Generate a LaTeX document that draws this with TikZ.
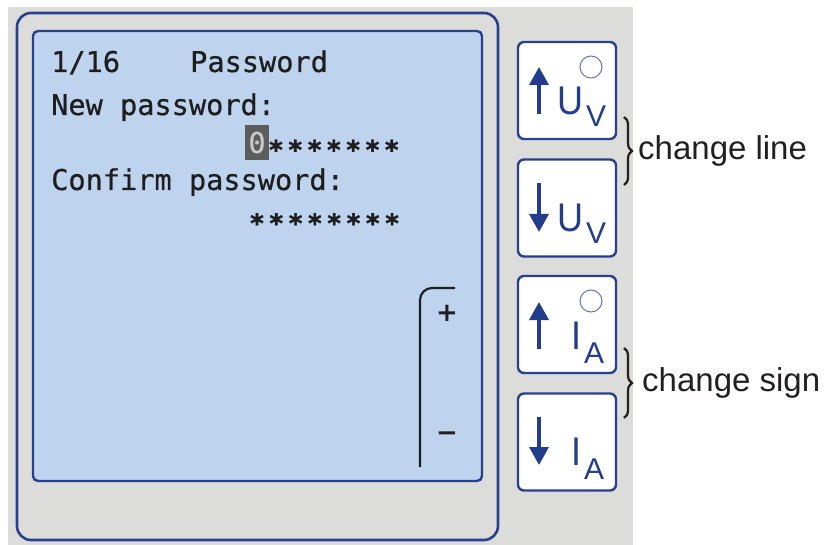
\documentclass[tikz,border=0pt]{standalone}
\usepackage{fontspec}
\setmainfont{Liberation Sans}
\newfontfamily\lcdfont[FakeBold=0.6]{DejaVu Sans Mono}
\newfontfamily\starfont[FakeBold=1.5]{DejaVu Sans Mono Bold}
\newfontfamily\keysans[FakeStretch=0.9]{Liberation Sans}
\newfontfamily\signfont{DejaVu Sans}
\usetikzlibrary{calc,arrows.meta,decorations.pathreplacing}

\definecolor{panelgrey}{HTML}{DCDCDB}
\definecolor{frameblue}{HTML}{29408F}
\definecolor{lcdblue}{HTML}{BED3EE}
\definecolor{keyblue}{HTML}{213D8C}
\definecolor{ledblue}{HTML}{6573BC}
\definecolor{cursorgrey}{HTML}{5C5C5C}
\definecolor{cursortext}{HTML}{C9C9C9}
\definecolor{lcdink}{HTML}{1E1E1E}
\definecolor{labelink}{HTML}{231F20}

\begin{document}
\begin{tikzpicture}[x=1pt,y=-1pt,
  framebox/.style={draw=frameblue,line width=2.6pt,rounded corners=14pt},
  lcdbox/.style={draw=frameblue,fill=lcdblue,line width=2.4pt,rounded corners=5pt},
  keybox/.style={draw=frameblue,fill=white,line width=2.4pt,rounded corners=6pt,
    minimum width=98pt,minimum height=97pt,inner sep=0pt},
  keyarrow/.style={keyblue,line width=3.5pt,-{Triangle[width=19pt,length=18pt]}},
  keymain/.style={keyblue,anchor=base west,inner sep=0pt,
    font=\keysans\fontsize{40}{40}\selectfont},
  keysub/.style={keyblue,anchor=base west,inner sep=0pt,
    font=\fontsize{30}{30}\selectfont},
  led/.style={draw=ledblue,line width=1pt,circle,minimum size=22pt,inner sep=0pt},
  lcdtext/.style={lcdink,anchor=base west,inner sep=0pt,
    font=\lcdfont\fontsize{28.6}{28.6}\selectfont},
  starchar/.style={lcdink,anchor=base,inner sep=0pt,
    font=\starfont\fontsize{26}{26}\selectfont},
  cursor/.style={fill=cursorgrey,text=cursortext,minimum width=24pt,minimum height=35pt,
    inner sep=0pt,font=\lcdfont\fontsize{28.6}{28.6}\selectfont},
  bracestyle/.style={labelink,line width=2.2pt,decorate,decoration={brace,amplitude=8pt}},
  sidelabel/.style={labelink,anchor=base west,inner sep=0pt,
    font=\fontsize{33}{33}\selectfont},
  scalebar/.style={black!88,line width=2.2pt,rounded corners=12pt},
  scalemark/.style={black!88,inner sep=0pt,font=\signfont\bfseries\fontsize{26}{26}\selectfont}
]
\useasboundingbox (0,0) rectangle (827,545);

% instrument front panel
\fill[panelgrey] (8,7) rectangle (633,545);
\draw[framebox] (17,13) rectangle (498,540);
\draw[lcdbox] (33,31) rectangle (482,481);

% display contents
\node[lcdtext] (title) at (51,72) {1/16};
\node[lcdtext] (titlename) at (190,72) {Password};
\node[lcdtext] (newpw) at (51,115) {New password:};
\node[cursor] (cur) at (257,142.5) {0};
\foreach \i in {0,...,6}
  \node[starchar] (n\i) at (276+19.3*\i,159) {*};
\node[lcdtext] (confpw) at (51,190) {Confirm password:};
\foreach \i in {0,...,7}
  \node[starchar] (c\i) at (257+19.3*\i,232.5) {*};

% bar scale
\coordinate (sbtop) at (455,288);
\coordinate (sbbot) at (420,467);
\draw[scalebar] (sbtop) -| (sbbot);
\node[scalemark] (plus) at (447,313) {+};
\node[scalemark] (minus) at (447,437) {−};

% keys
\node[keybox] (k1) at (567,90.5) {};
\node[keybox] (k2) at (567,208) {};
\node[keybox] (k3) at (567,324.5) {};
\node[keybox] (k4) at (567,442) {};

\draw[keyarrow] ($(k1)+(-28,24)$) -- ($(k1)+(-28,-23.5)$);
\draw[keyarrow] ($(k2)+(-28,-25)$) -- ($(k2)+(-28,24)$);
\draw[keyarrow] ($(k3)+(-28,24.5)$) -- ($(k3)+(-28,-22.5)$);
\draw[keyarrow] ($(k4)+(-28,-25)$) -- ($(k4)+(-28,23)$);

\node[keymain] (u1) at ($(k1)+(-10,24)$) {U};
\node[keysub] (v1) at ($(k1)+(19,36)$) {V};
\node[keymain] (u2) at ($(k2)+(-10,24)$) {U};
\node[keysub] (v2) at ($(k2)+(19,36)$) {V};
\node[keymain] (i3) at ($(k3)+(4,24.5)$) {I};
\node[keysub] (a3) at ($(k3)+(17,38.5)$) {A};
\node[keymain] (i4) at ($(k4)+(4,23)$) {I};
\node[keysub] (a4) at ($(k4)+(17,37)$) {A};

\node[led] (led1) at ($(k1)+(24,-23.5)$) {};
\node[led] (led3) at ($(k3)+(24,-23.5)$) {};

% key group labels
\coordinate (b1t) at (624,117);
\coordinate (b1b) at (624,185);
\draw[bracestyle] (b1t) -- (b1b);
\node[sidelabel] (lbl1) at (638,160) {change line};
\coordinate (b2t) at (624,348);
\coordinate (b2b) at (624,418);
\draw[bracestyle] (b2t) -- (b2b);
\node[sidelabel] (lbl2) at (642,391) {change sign};
\end{tikzpicture}
\end{document}
